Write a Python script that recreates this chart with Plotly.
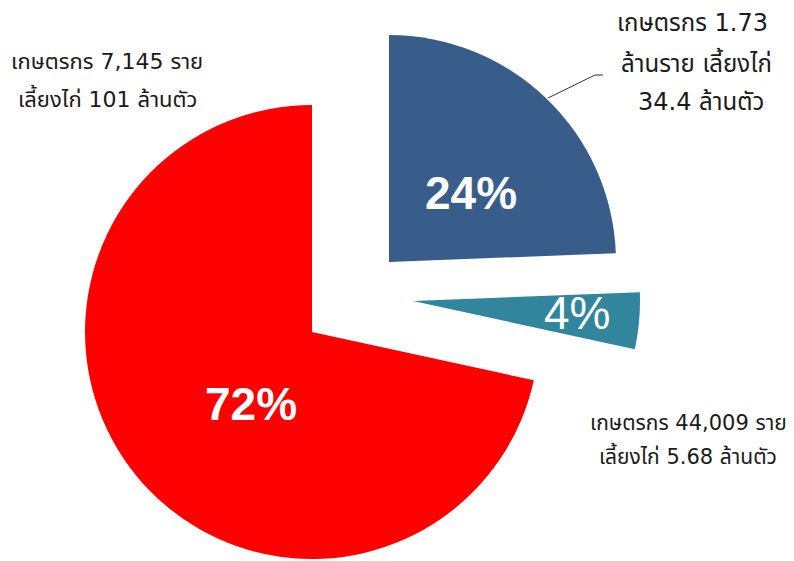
import plotly.graph_objects as go

# chickens raised (million birds) per farm group
groups = ['group_a', 'group_b', 'group_c']
chickens = [34.4, 5.68, 101]
colors = ['#385D8A', '#31859C', '#FF0000']

# callout texts
label_a = ['เกษตรกร 1.73', 'ล้านราย เลี้ยงไก่', '34.4 ล้านตัว']
label_b = ['เกษตรกร 44,009 ราย', 'เลี้ยงไก่ 5.68 ล้านตัว']
label_c = ['เกษตรกร 7,145 ราย', 'เลี้ยงไก่ 101 ล้านตัว']

W, H = 794, 561
OFF = 8  # page body margin
R = 227
# pixel centres of each exploded slice
centres = [(389, 262), (413, 301), (312, 332)]
pct_pos = [(471, 193), (577, 313), (251, 404)]
pct_weight = ['bold', 'normal', 'bold']

def px(x):
    return (x - OFF) / W

def py(y):
    return 1 - (y - OFF) / H

total = sum(chickens)
fig = go.Figure()
for k in range(len(chickens)):
    cx, cy = centres[k]
    fig.add_trace(go.Pie(
        labels=groups, values=chickens, sort=False, direction='clockwise', rotation=0,
        marker=dict(colors=[colors[i] if i == k else 'rgba(0,0,0,0)' for i in range(len(chickens))],
                    line=dict(width=0)),
        textinfo='none',
        domain=dict(x=[px(cx - R), px(cx + R)], y=[py(cy + R), py(cy - R)]),
        showlegend=False, hoverinfo='label+value+percent'))

ann = []
for k in range(len(chickens)):
    x, y = pct_pos[k]
    ann.append(dict(text=f'{round(100 * chickens[k] / total)}%', x=px(x), y=py(y),
                    xref='paper', yref='paper', showarrow=False, xanchor='center', yanchor='middle',
                    font=dict(family='Liberation Sans, Arial', size=46, color='white',
                              weight=pct_weight[k])))

thai_font = dict(family='DejaVu Sans, Noto Sans Thai, sans-serif', size=22, color='#1a1a1a')
for txt, (x, y) in zip(label_a, [(692, 23), (696, 63), (701, 102)]):
    ann.append(dict(text=txt, x=px(x), y=py(y), xref='paper', yref='paper', showarrow=False,
                    xanchor='center', yanchor='middle', font=dict(thai_font, size=24)))
for txt, (x, y) in zip(label_b, [(688, 423), (688, 455)]):
    ann.append(dict(text=txt, x=px(x), y=py(y), xref='paper', yref='paper', showarrow=False,
                    xanchor='center', yanchor='middle', font=dict(thai_font, size=21)))
for txt, (x, y) in zip(label_c, [(107, 62), (107, 98)]):
    ann.append(dict(text=txt, x=px(x), y=py(y), xref='paper', yref='paper', showarrow=False,
                    xanchor='center', yanchor='middle', font=thai_font))

# leader line from the blue slice to its callout
fig.add_shape(type='path', xref='paper', yref='paper',
              path=f'M {px(548)} {py(98)} L {px(595)} {py(75)} L {px(603)} {py(75)}',
              line=dict(color='#333333', width=1))

fig.update_layout(width=W, height=H, margin=dict(l=0, r=0, t=0, b=0),
                  paper_bgcolor='white', plot_bgcolor='white', annotations=ann)
fig.write_html("out.html")
